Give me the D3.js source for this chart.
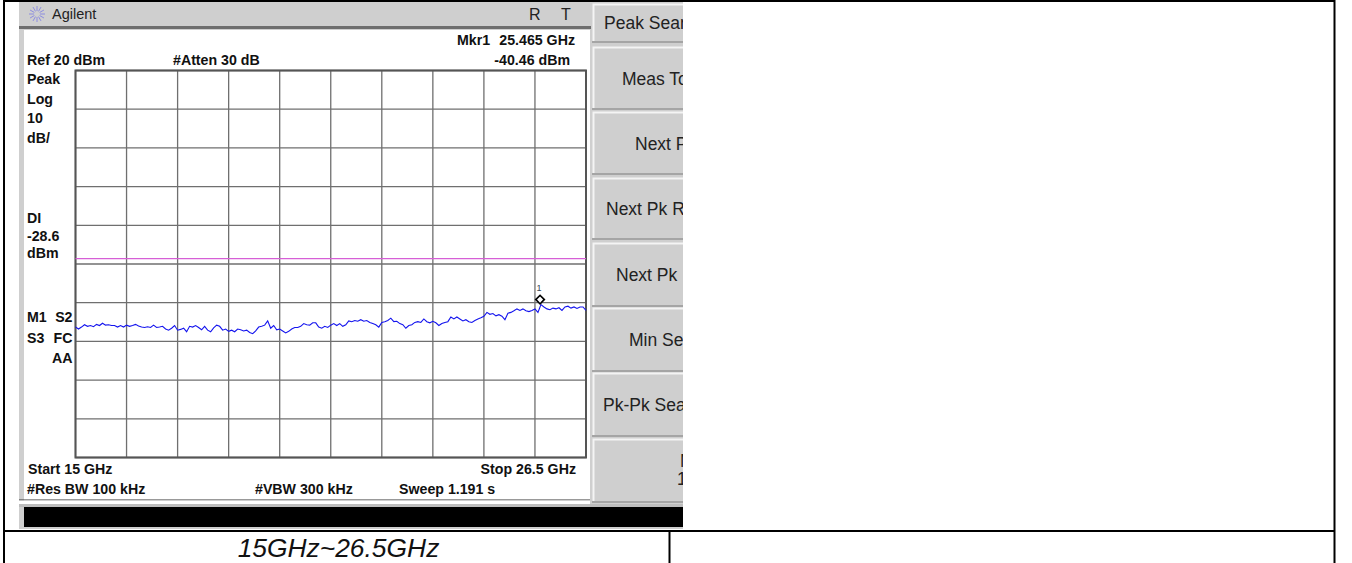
<!DOCTYPE html>
<html><head><meta charset="utf-8">
<script src="https://cdn.jsdelivr.net/npm/d3@7/dist/d3.min.js"></script>
<style>html,body{margin:0;padding:0;background:#fff}svg{display:block}text{font-family:"Liberation Sans",Arial,sans-serif}</style>
</head><body><svg id="c" width="1352" height="563"></svg>
<script>
const traceDbm = [
-46.3,-46.8,-46.3,-45.7,-46.1,-45.9,-46.2,-45.6,-45.9,-45.3,-45.8,-45.7,-45.9,-45.9,-46.3,-45.9,-46.3,-45.8,-46.1,-45.9,
-45.6,-46.0,-46.3,-46.4,-46.2,-46.4,-45.8,-46.4,-46.3,-46.1,-46.8,-47.1,-46.6,-45.9,-47.1,-46.9,-46.6,-47.5,-46.1,-46.3,
-45.9,-46.4,-47.0,-46.1,-47.1,-47.5,-46.5,-45.8,-46.1,-47.1,-46.8,-47.4,-47.1,-47.5,-46.8,-47.0,-47.3,-47.1,-47.7,-48.0,
-47.3,-46.3,-46.1,-45.8,-44.7,-46.6,-45.9,-47.0,-46.8,-47.3,-47.8,-47.4,-46.8,-46.4,-46.4,-46.1,-45.4,-45.7,-45.8,
-45.2,-45.2,-46.3,-46.6,-46.1,-46.4,-45.8,-45.4,-45.9,-45.4,-46.1,-45.7,-44.7,-44.9,-44.6,-44.8,-44.4,-44.8,-44.6,-45.1,
-45.4,-45.7,-46.3,-45.1,-44.9,-44.6,-44.0,-44.9,-44.8,-45.4,-45.7,-46.6,-45.9,-45.7,-45.1,-44.9,-45.1,-44.2,-44.9,-45.2,
-44.8,-45.2,-45.9,-45.4,-45.1,-44.9,-43.7,-44.2,-43.7,-44.2,-44.7,-44.4,-44.9,-45.1,-44.6,-44.2,-43.9,-43.5,-42.5,-43.0,
-42.8,-43.4,-43.1,-43.5,-44.4,-42.7,-42.5,-42.1,-41.6,-42.0,-41.6,-42.1,-42.3,-42.0,-41.6,-42.5,-40.5,-41.1,-41.6,-41.8,
-41.4,-41.6,-41.3,-42.0,-41.1,-40.9,-41.4,-41.1,-41.5,-41.1,-41.1,-42.0];
const freqStart = 15, freqStop = 26.5;
const refLevel = 20, bottomLevel = -80, displayLine = -28.6;
const markerFreq = 25.465, markerGlyphLevel = -39.2;
const freqDivisions = 10, levelDivisions = 10;
const softKeys = ["Peak Search","Meas Tools","Next Peak","Next Pk Right","Next Pk Left","Min Search","Pk-Pk Search","More"];
const keyTop=[4,47,112,178,243,308,373,439], keyBot=[41,108,173,238,305,370,435,501];
const keyX=[604,622,635,606,616,629,603,680], keyY=[29,85,150,215,281,346,411,467];
const leftLabels=[["Peak",84],["Log",104],["10",123],["dB/",143],["DI",223],["-28.6",241],["dBm",258]];

const svg=d3.select("#c");
const x=d3.scaleLinear().domain([freqStart,freqStop]).range([75.5,586]);
const y=d3.scaleLinear().domain([refLevel,bottomLevel]).range([70.5,457.5]);

const rule=(a,b,c,d,w=2)=>svg.append("line").attr("x1",a).attr("y1",b).attr("x2",c).attr("y2",d).attr("stroke","#000").attr("stroke-width",w);
rule(3,1,1335,1);rule(4,0,4,563);rule(1334.5,0,1334.5,563);rule(3,531,1335,531);rule(669.5,531,669.5,563);

svg.append("defs").append("clipPath").attr("id","shot").append("rect").attr("x",19).attr("y",2).attr("width",664).attr("height",527);
const g=svg.append("g").attr("clip-path","url(#shot)");
g.append("rect").attr("x",19).attr("y",2).attr("width",664).attr("height",527).attr("fill","#cfcfcf");
g.append("rect").attr("x",19).attr("y",26).attr("width",572).attr("height",3).attr("fill","#6e6e6e");
g.append("rect").attr("x",24).attr("y",30).attr("width",566).attr("height",473).attr("fill","#fff");
g.append("line").attr("x1",19).attr("x2",590).attr("y1",500).attr("y2",500).attr("stroke","#333").attr("stroke-width",1);
g.append("rect").attr("x",19).attr("y",500.5).attr("width",571).attr("height",4).attr("fill","#fff");
g.append("rect").attr("x",19).attr("y",504).attr("width",664).attr("height",3).attr("fill","#bdbdbd");
g.append("rect").attr("x",24).attr("y",507).attr("width",659).attr("height",20).attr("fill","#000");

softKeys.forEach((k,i)=>{
  g.append("rect").attr("x",592).attr("y",keyTop[i]).attr("width",100).attr("height",keyBot[i]-keyTop[i]).attr("fill","#cfcfcf");
  g.append("path").attr("d",`M593.5 ${keyBot[i]}V${keyTop[i]+.5}H692`).attr("fill","none").attr("stroke","#f4f4f4").attr("stroke-width",2);
  g.append("line").attr("x1",592).attr("x2",692).attr("y1",keyBot[i]+1).attr("y2",keyBot[i]+1).attr("stroke","#a5a5a5").attr("stroke-width",2);
  g.append("text").attr("x",keyX[i]).attr("y",keyY[i]).attr("font-size",17.5).attr("fill","#222").text(k);
});
g.append("text").attr("x",677).attr("y",485).attr("font-size",17.5).attr("fill","#222").text("1 of 2");

g.append("text").attr("x",52).attr("y",19).attr("font-size",14.5).attr("fill","#222").text("Agilent");
g.append("text").attr("x",529).attr("y",20).attr("font-size",16).attr("fill","#222").text("R");
g.append("text").attr("x",561).attr("y",20).attr("font-size",16).attr("fill","#222").text("T");
d3.range(12).forEach(i=>{const a=i*Math.PI/6;
  g.append("line").attr("x1",37+3*Math.cos(a)).attr("y1",14+3*Math.sin(a)).attr("x2",37+8*Math.cos(a)).attr("y2",14+8*Math.sin(a)).attr("stroke","#8d8de0").attr("stroke-width",1);});

const freqTicks=d3.range(freqDivisions+1).map(i=>freqStart+(freqStop-freqStart)*i/freqDivisions);
const levelTicks=d3.range(levelDivisions+1).map(i=>refLevel+(bottomLevel-refLevel)*i/levelDivisions);
g.append("g").selectAll("line").data(freqTicks).join("line")
 .attr("x1",d=>x(d)).attr("x2",d=>x(d)).attr("y1",y(refLevel)).attr("y2",y(bottomLevel)).attr("stroke","#6f6f6f").attr("stroke-width",1.3);
g.append("g").selectAll("line").data(levelTicks).join("line")
 .attr("y1",d=>y(d)).attr("y2",d=>y(d)).attr("x1",x(freqStart)).attr("x2",x(freqStop)).attr("stroke","#6f6f6f").attr("stroke-width",1.3);
g.append("rect").attr("x",x(freqStart)).attr("y",y(refLevel)).attr("width",x(freqStop)-x(freqStart)).attr("height",y(bottomLevel)-y(refLevel)).attr("fill","none").attr("stroke","#555").attr("stroke-width",2);

g.append("line").attr("x1",x(freqStart)).attr("x2",x(freqStop)).attr("y1",y(displayLine)).attr("y2",y(displayLine)).attr("stroke","#d65fd6").attr("stroke-width",1.3);

const fx=i=>freqStart+(freqStop-freqStart)*i/(traceDbm.length-1);
g.append("path").datum(traceDbm).attr("fill","none").attr("stroke","#1414ee").attr("stroke-width",1.1)
 .attr("d",d3.line().x((d,i)=>x(fx(i))).y(d=>y(d)));

const mx=x(markerFreq), my=y(markerGlyphLevel);
g.append("path").attr("d",d3.symbol(d3.symbolSquare,36)()).attr("transform",`translate(${mx},${my}) rotate(45)`).attr("fill","#fff").attr("stroke","#000").attr("stroke-width",1.7);
g.append("text").attr("x",mx-1).attr("y",my-9).attr("font-size",9).attr("text-anchor","middle").attr("fill","#345").text("1");

const bold=(t,xx,yy,anchor="start")=>g.append("text").attr("x",xx).attr("y",yy).attr("font-size",14.2).attr("font-weight","bold").attr("text-anchor",anchor).attr("fill","#111").text(t);
bold("Mkr1",457,45);
bold("25.465 GHz",575,45,"end");
bold("-40.46 dBm",570,65,"end");
bold("Ref 20 dBm",27,65);
bold("#Atten 30 dB",173,65);
leftLabels.forEach(d=>bold(d[0],27,d[1]));
bold("M1",27,322);bold("S2",72.5,322,"end");
bold("S3",27,343);bold("FC",72.5,343,"end");
bold("AA",72.5,363,"end");
bold("Start 15 GHz",28,474);
bold("Stop 26.5 GHz",576,474,"end");
bold("#Res BW 100 kHz",27,494);
bold("#VBW 300 kHz",255,494);
bold("Sweep 1.191 s",399,494);

svg.append("text").attr("x",338.5).attr("y",557).attr("text-anchor","middle").attr("font-size",26.4).attr("font-style","italic").attr("fill","#111").text("15GHz~26.5GHz");
</script></body></html>
